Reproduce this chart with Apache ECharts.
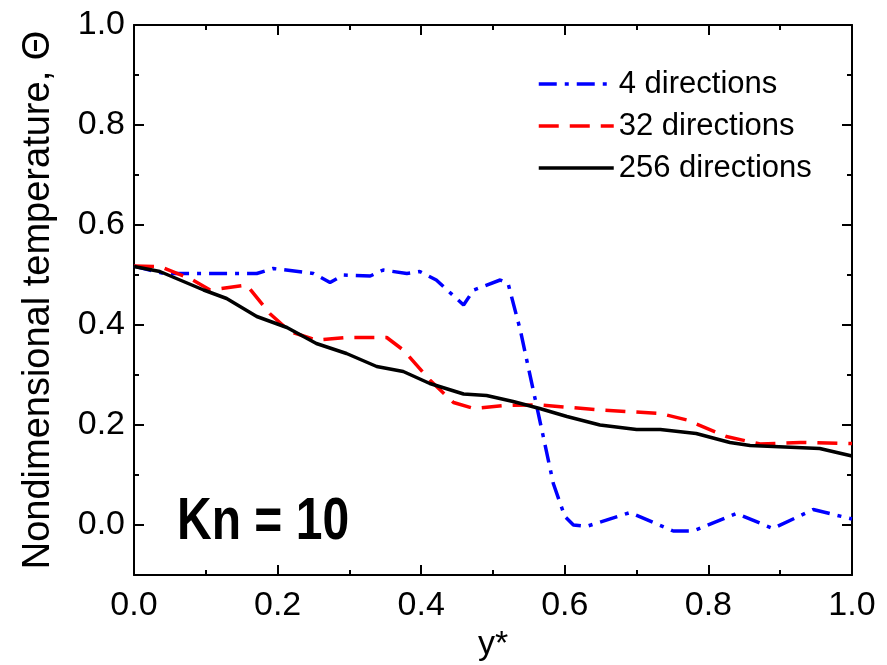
<!DOCTYPE html>
<html>
<head>
<meta charset="utf-8">
<script src="https://cdn.jsdelivr.net/npm/echarts@6/dist/echarts.min.js"></script>
<style>
  html, body { margin: 0; padding: 0; background: #fff; }
  #chart { width: 887px; height: 665px; }
</style>
</head>
<body>
<div id="chart"></div>
<script>
// Temperature profiles across the channel for three angular resolutions
const x4   = [0, 0.041, 0.101, 0.171, 0.194, 0.25, 0.273, 0.292, 0.329, 0.347, 0.38, 0.398, 0.421, 0.459, 0.473, 0.51, 0.521, 0.538, 0.556, 0.57, 0.584, 0.6, 0.612, 0.63, 0.691, 0.751, 0.779, 0.839, 0.89, 0.946, 1.0];
const t4   = [0.518, 0.503, 0.503, 0.503, 0.513, 0.503, 0.485, 0.5, 0.498, 0.51, 0.503, 0.507, 0.49, 0.44, 0.47, 0.49, 0.483, 0.39, 0.27, 0.177, 0.083, 0.017, 0.0, -0.003, 0.025, -0.012, -0.012, 0.023, -0.007, 0.031, 0.012];

const x32  = [0, 0.036, 0.078, 0.106, 0.157, 0.189, 0.217, 0.254, 0.296, 0.352, 0.375, 0.412, 0.445, 0.473, 0.514, 0.567, 0.649, 0.733, 0.77, 0.825, 0.872, 0.928, 1.0];
const t32  = [0.518, 0.517, 0.493, 0.47, 0.48, 0.423, 0.387, 0.37, 0.375, 0.375, 0.35, 0.29, 0.245, 0.233, 0.239, 0.24, 0.23, 0.223, 0.21, 0.177, 0.162, 0.165, 0.163];

const x256 = [0, 0.036, 0.097, 0.129, 0.171, 0.213, 0.254, 0.296, 0.338, 0.375, 0.412, 0.459, 0.491, 0.528, 0.565, 0.603, 0.649, 0.70, 0.733, 0.783, 0.83, 0.858, 0.955, 1.0];
const t256 = [0.517, 0.507, 0.47, 0.453, 0.417, 0.395, 0.363, 0.343, 0.317, 0.307, 0.283, 0.262, 0.259, 0.247, 0.233, 0.217, 0.2, 0.191, 0.191, 0.183, 0.165, 0.159, 0.153, 0.138];

const seriesNames = ['4 directions', '32 directions', '256 directions'];
const xTickValues = [0, 0.2, 0.4, 0.6, 0.8, 1.0];
const yTickValues = [0, 0.2, 0.4, 0.6, 0.8, 1.0];

const FONT = "'Liberation Sans', Arial, Helvetica, sans-serif";
const pairs = (xs, ys) => xs.map((x, i) => [x, ys[i]]);
const fmt = v => v.toFixed(1);

const lineBlack = { color: '#000', width: 2 };
const tickCommon = {
  show: true, inside: true, length: 10, lineStyle: lineBlack
};
const minorCommon = {
  show: true, splitNumber: 2, length: 5, lineStyle: lineBlack
};
const labelStyle = { color: '#000', fontSize: 34, fontFamily: FONT };

const chart = echarts.init(document.getElementById('chart'));

chart.setOption({
  backgroundColor: '#fff',
  animation: false,
  grid: [
    // full plotting frame, y from -0.1 to 1.0
    { left: 134, right: 35, top: 25, bottom: 90, outerBoundsMode: 'none', containLabel: false },
    // overlay frame for the y ticks (0 .. 1.0)
    { left: 134, right: 35, top: 25, bottom: 140, outerBoundsMode: 'none', containLabel: false }
  ],
  xAxis: [
    {
      gridIndex: 0, type: 'value', position: 'bottom',
      min: xTickValues[0], max: xTickValues[xTickValues.length - 1], interval: 0.2,
      axisLine: { show: true, onZero: false, lineStyle: lineBlack },
      axisTick: tickCommon, minorTick: minorCommon,
      splitLine: { show: false }, minorSplitLine: { show: false },
      axisLabel: Object.assign({ margin: 14, formatter: fmt }, labelStyle),
      name: 'y*', nameLocation: 'middle', nameGap: 40,
      nameTextStyle: { color: '#000', fontSize: 34, fontFamily: FONT }
    },
    {
      gridIndex: 0, type: 'value', position: 'top',
      min: 0, max: 1, interval: 0.2,
      axisLine: { show: true, onZero: false, lineStyle: lineBlack },
      axisTick: tickCommon, minorTick: minorCommon,
      splitLine: { show: false }, axisLabel: { show: false }
    },
    { gridIndex: 1, type: 'value', min: 0, max: 1, show: false }
  ],
  yAxis: [
    {
      gridIndex: 0, type: 'value', position: 'left', min: -0.1, max: 1.0,
      axisLine: { show: true, onZero: false, lineStyle: lineBlack },
      axisTick: { show: false }, axisLabel: { show: false }, splitLine: { show: false },
      name: 'Nondimensional temperature, \u0398', nameLocation: 'middle', nameGap: 76,
      nameTextStyle: { color: '#000', fontSize: 38, fontFamily: FONT }
    },
    {
      gridIndex: 0, type: 'value', position: 'right', min: -0.1, max: 1.0,
      axisLine: { show: true, onZero: false, lineStyle: lineBlack },
      axisTick: { show: false }, axisLabel: { show: false }, splitLine: { show: false }
    },
    {
      gridIndex: 1, type: 'value', position: 'left',
      min: yTickValues[0], max: yTickValues[yTickValues.length - 1], interval: 0.2,
      axisLine: { show: false, onZero: false },
      axisTick: tickCommon, minorTick: minorCommon,
      splitLine: { show: false }, minorSplitLine: { show: false },
      axisLabel: Object.assign({ margin: 9, formatter: fmt }, labelStyle)
    },
    {
      gridIndex: 1, type: 'value', position: 'right', min: 0, max: 1, interval: 0.2,
      axisLine: { show: false, onZero: false },
      axisTick: tickCommon, minorTick: minorCommon,
      splitLine: { show: false }, axisLabel: { show: false }
    }
  ],
  legend: {
    data: seriesNames,
    orient: 'vertical',
    left: 532, top: 62,
    itemWidth: 75, itemHeight: 14, itemGap: 8,
    itemStyle: { opacity: 0, borderWidth: 0 },
    lineStyle: { width: 3.5 },
    textStyle: { color: '#000', fontSize: 31, fontFamily: FONT, lineHeight: 34 }
  },
  graphic: [
    {
      type: 'text', x: 177, y: 522, scaleX: 0.8,
      style: {
        text: 'Kn = 10', fill: '#000',
        font: 'bold 60px ' + FONT,
        textVerticalAlign: 'middle', verticalAlign: 'middle'
      }
    }
  ],
  series: [
    {
      name: seriesNames[0], type: 'line', xAxisIndex: 0, yAxisIndex: 0,
      data: pairs(x4, t4), symbol: 'none', showSymbol: false,
      itemStyle: { color: '#0000ff' },
      lineStyle: { color: '#0000ff', width: 3.5, type: [18, 8, 4, 8], cap: 'butt' }
    },
    {
      name: seriesNames[1], type: 'line', xAxisIndex: 0, yAxisIndex: 0,
      data: pairs(x32, t32), symbol: 'none', showSymbol: false,
      itemStyle: { color: '#ff0000' },
      lineStyle: { color: '#ff0000', width: 3.5, type: [20, 11], cap: 'butt' }
    },
    {
      name: seriesNames[2], type: 'line', xAxisIndex: 0, yAxisIndex: 0,
      data: pairs(x256, t256), symbol: 'none', showSymbol: false,
      itemStyle: { color: '#000000' },
      lineStyle: { color: '#000000', width: 3.5, type: 'solid' }
    }
  ]
});
</script>
</body>
</html>
